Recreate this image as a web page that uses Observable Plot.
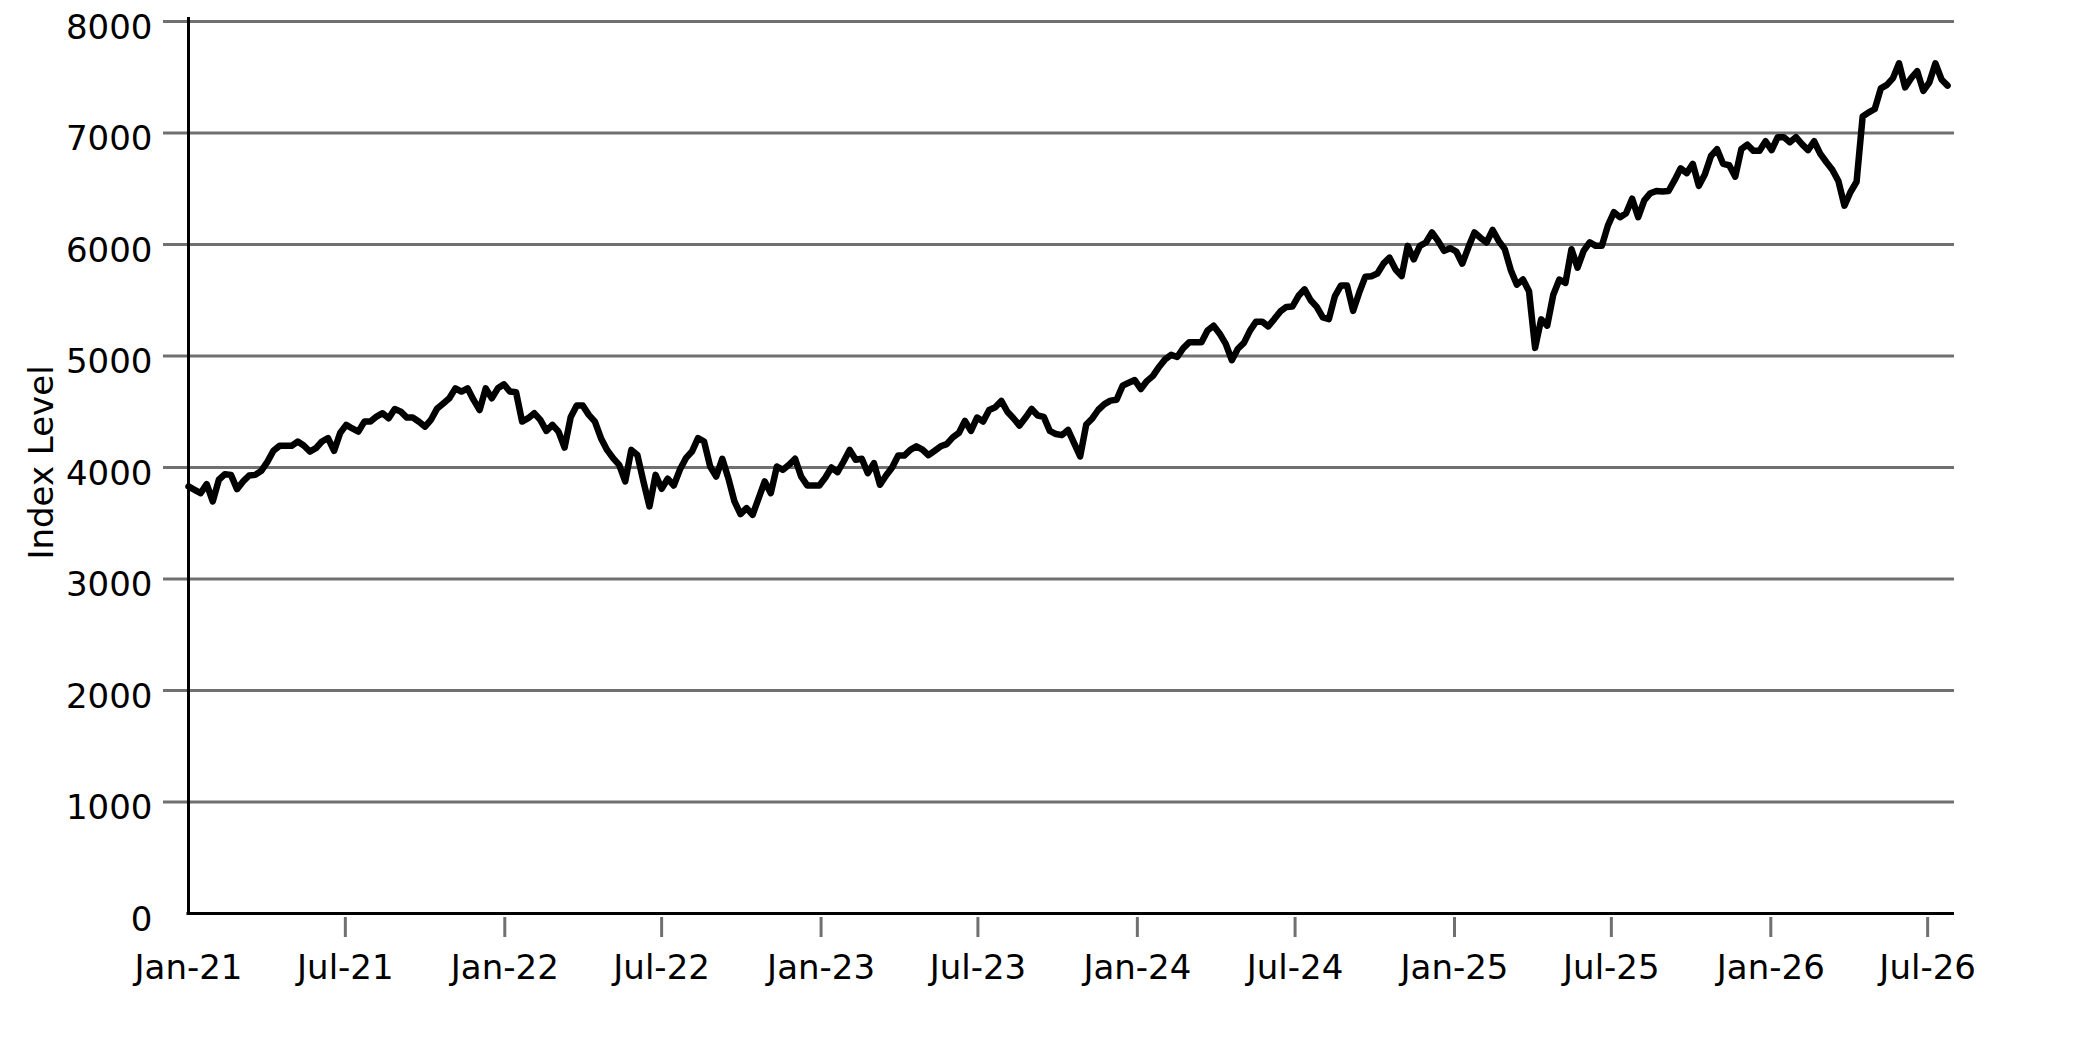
<!DOCTYPE html>
<html>
<head>
<meta charset="utf-8">
<script src="https://cdn.jsdelivr.net/npm/d3@7"></script>
<script src="https://cdn.jsdelivr.net/npm/@observablehq/plot@0.6"></script>
<style>
  html, body { margin: 0; padding: 0; background: #fff; }
  #chart { width: 2083px; height: 1042px; }
</style>
</head>
<body>
<div id="chart"></div>
<script>
// Weekly index level, one value per week starting Fri 1 Jan 2021
const firstWeek = "2021-01-01";
const indexLevels = [
  3830, 3800, 3770, 3851, 3696, 3890, 3940, 3934, 3806, 3875,
  3928, 3934, 3970, 4050, 4150, 4194, 4194, 4194, 4233, 4197,
  4143, 4173, 4233, 4263, 4149, 4310, 4382, 4350, 4322, 4412,
  4412, 4457, 4487, 4442, 4525, 4501, 4448, 4448, 4410, 4367,
  4430, 4530, 4575, 4621, 4710, 4681, 4710, 4606, 4516, 4710,
  4621, 4710, 4746, 4681, 4675, 4412, 4442, 4487, 4427, 4328,
  4382, 4322, 4179, 4450, 4555, 4555, 4472, 4412, 4263, 4158,
  4084, 4024, 3875, 4158, 4113, 3875, 3651, 3934, 3809, 3899,
  3839, 3979, 4084, 4143, 4263, 4233, 4009, 3919, 4078, 3904,
  3696, 3582, 3636, 3576, 3725, 3875, 3770, 4009, 3979, 4024,
  4078, 3919, 3839, 3839, 3839, 3910, 4000, 3958, 4054, 4158,
  4069, 4078, 3949, 4039, 3845, 3928, 4000, 4107, 4107, 4158,
  4190, 4160, 4110, 4150, 4190, 4210, 4270, 4310, 4418, 4328,
  4448, 4412, 4516, 4540, 4597, 4500, 4442, 4376, 4448, 4525,
  4466, 4454, 4328, 4300, 4290, 4337, 4218, 4099, 4385, 4440,
  4518, 4568, 4600, 4607, 4734, 4760, 4784, 4704, 4775, 4822,
  4902, 4970, 5010, 4991, 5071, 5124, 5124, 5124, 5228, 5272,
  5200, 5109, 4962, 5065, 5118, 5228, 5308, 5308, 5266, 5331,
  5400, 5440, 5444, 5540, 5598, 5500, 5440, 5346, 5331, 5538,
  5633, 5633, 5405, 5568, 5710, 5716, 5740, 5828, 5882, 5776,
  5716, 5988, 5867, 5988, 6018, 6108, 6033, 5943, 5967, 5937,
  5828, 5975, 6108, 6060, 6018, 6130, 6033, 5958, 5770, 5640,
  5686, 5580, 5073, 5329, 5272, 5550, 5686, 5656, 5958, 5792,
  5943, 6020, 5988, 5988, 6169, 6290, 6245, 6281, 6411, 6245,
  6396, 6460, 6480, 6475, 6480, 6577, 6683, 6640, 6723, 6526,
  6631, 6794, 6855, 6723, 6711, 6609, 6855, 6895, 6840, 6840,
  6926, 6846, 6963, 6963, 6917, 6963, 6900, 6846, 6926, 6815,
  6740, 6671, 6569, 6348, 6471, 6563, 7148, 7185, 7215, 7400,
  7431, 7492, 7625, 7409, 7492, 7554, 7378, 7455, 7625, 7480,
  7425
];
const xDomain = ["2021-01-01", "2026-08-01"];
const xTickDates = ["2021-01-01", "2021-07-01", "2022-01-01", "2022-07-01", "2023-01-01", "2023-07-01",
                    "2024-01-01", "2024-07-01", "2025-01-01", "2025-07-01", "2026-01-01", "2026-07-01"];
const yTicks = [0, 1000, 2000, 3000, 4000, 5000, 6000, 7000, 8000];
const yLabel = "Index Level";

const start = new Date(firstWeek + "T00:00:00Z");
const data = indexLevels.map((v, i) => ({date: d3.utcDay.offset(start, 7 * i), value: v}));
const xTicks = xTickDates.map(s => new Date(s + "T00:00:00Z"));
const gridTicks = yTicks.filter(v => v > 0);
const grey = "#707070";
const fs = 34;

const chart = Plot.plot({
  width: 2083,
  height: 1042,
  marginLeft: 188,
  marginRight: 129,
  marginTop: 21,
  marginBottom: 129,
  style: {fontFamily: "DejaVu Sans", fontSize: fs + "px", background: "#fff", color: "#000"},
  x: {type: "utc", domain: xDomain.map(s => new Date(s + "T00:00:00Z"))},
  y: {domain: [0, 8000]},
  marks: [
    Plot.ruleY(gridTicks, {stroke: grey, strokeWidth: 3, insetLeft: -25}),
    Plot.axisY({ticks: yTicks, tickSize: 0, tickPadding: 36, fontSize: fs, dy: 6.5, label: null, fill: "#000", tickFormat: d => String(d)}),
    Plot.axisX({ticks: xTicks.slice(1), tickSize: 20, stroke: grey, strokeWidth: 3, fill: "none", dy: 4, label: null}),
    Plot.axisX({ticks: xTicks, tickSize: 0, tickPadding: 41, fontSize: fs, tickFormat: d3.utcFormat("%b-%y"), label: null, fill: "#000"}),
    Plot.text([yLabel], {frameAnchor: "left", textAnchor: "middle", lineAnchor: "middle", rotate: -90, dx: -146, dy: -5, fontSize: fs, fill: "#000"}),
    Plot.line(data, {x: "date", y: "value", stroke: "#000", strokeWidth: 6.5, strokeLinejoin: "round"}),
    Plot.ruleY([0], {stroke: "#000", strokeWidth: 3, insetLeft: -1.5}),
    Plot.ruleX([xTicks[0]], {stroke: "#000", strokeWidth: 3, insetTop: -4})
  ]
});
document.getElementById("chart").appendChild(chart);
</script>
</body>
</html>
